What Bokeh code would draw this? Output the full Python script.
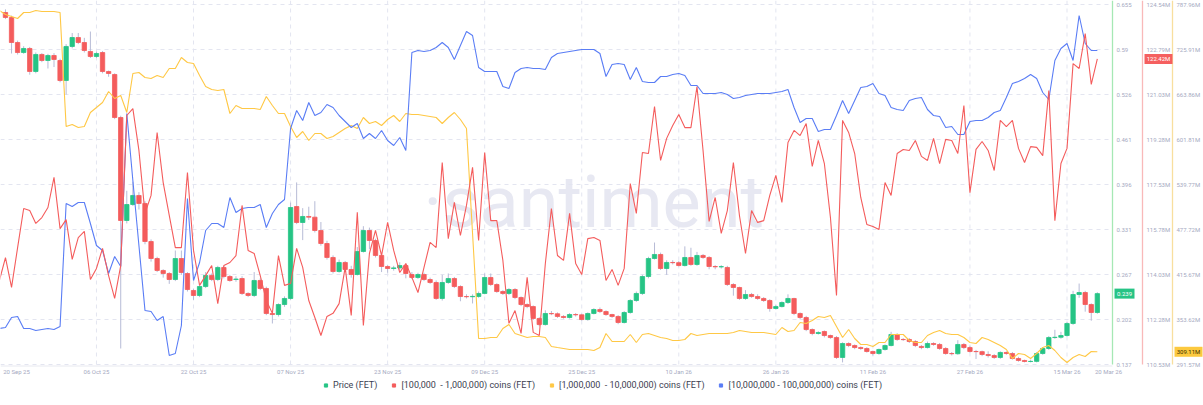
import pandas as pd
from bokeh.plotting import figure
from bokeh.models import (Range1d, Label, Legend, LegendItem, ColumnDataSource)
from bokeh.core.properties import value
from bokeh.embed import file_html
from bokeh.resources import INLINE

FONT = "Roboto"
DAY_MS = 86400000

# ---------------- data ----------------
line_dates = pd.date_range("2025-09-20", periods=182, freq="D")
candle_dates = line_dates[1:]

price_open = [
    0.6435, 0.6363, 0.6003, 0.5859, 0.5917, 0.5586, 0.5831, 0.5744, 0.5816, 0.5744,
    0.5456, 0.5946, 0.6075, 0.6003, 0.5874, 0.5802, 0.5859, 0.5586, 0.5543, 0.4924,
    0.3442, 0.3672, 0.3802, 0.3687, 0.3140, 0.2895, 0.2723, 0.2679, 0.2593, 0.2895,
    0.2679, 0.2435, 0.2363, 0.2492, 0.2651, 0.2593, 0.2766, 0.2636, 0.2593, 0.2607,
    0.2392, 0.2363, 0.2579, 0.2464, 0.2104, 0.2089, 0.2233, 0.2320, 0.3643, 0.3413,
    0.3500, 0.3490, 0.3298, 0.3111, 0.2910, 0.2708, 0.2838, 0.2737, 0.2665, 0.2996,
    0.3298, 0.3154, 0.2939, 0.2780, 0.2751, 0.2760, 0.2794, 0.2665, 0.2622, 0.2665,
    0.2593, 0.2550, 0.2320, 0.2550, 0.2607, 0.2492, 0.2348, 0.2345, 0.2348, 0.2392,
    0.2622, 0.2521, 0.2420, 0.2392, 0.2449, 0.2334, 0.2233, 0.2204, 0.2032, 0.1945,
    0.2104, 0.2100, 0.2061, 0.2046, 0.2089, 0.2085, 0.2017, 0.2104, 0.2161, 0.2132,
    0.2089, 0.2061, 0.1974, 0.2118, 0.2291, 0.2392, 0.2636, 0.2895, 0.2953, 0.2751,
    0.2838, 0.2835, 0.2794, 0.2910, 0.2809, 0.2939, 0.2910, 0.2780, 0.2775, 0.2766,
    0.2521, 0.2478, 0.2320, 0.2377, 0.2348, 0.2320, 0.2291, 0.2176, 0.2204, 0.2262,
    0.2320, 0.2104, 0.2046, 0.1873, 0.1816, 0.1845, 0.1787, 0.1758, 0.1471, 0.1672,
    0.1643, 0.1614, 0.1600, 0.1557, 0.1528, 0.1586, 0.1643, 0.1802, 0.1730, 0.1730,
    0.1701, 0.1630, 0.1614, 0.1672, 0.1658, 0.1600, 0.1528, 0.1525, 0.1658, 0.1614,
    0.1557, 0.1555, 0.1514, 0.1499, 0.1471, 0.1543, 0.1528, 0.1456, 0.1428, 0.1413,
    0.1415, 0.1528, 0.1600, 0.1758, 0.1762, 0.1787, 0.1960, 0.2377, 0.2406, 0.2233,
    0.2118]
price_close = [
    0.6363, 0.6003, 0.5859, 0.5917, 0.5586, 0.5831, 0.5744, 0.5816, 0.5759, 0.5456,
    0.5946, 0.6075, 0.6003, 0.5888, 0.5802, 0.5845, 0.5586, 0.5557, 0.4924, 0.3442,
    0.3672, 0.3802, 0.3687, 0.3140, 0.2895, 0.2723, 0.2679, 0.2593, 0.2895, 0.2694,
    0.2449, 0.2363, 0.2492, 0.2651, 0.2593, 0.2766, 0.2636, 0.2579, 0.2600, 0.2392,
    0.2363, 0.2579, 0.2464, 0.2104, 0.2089, 0.2233, 0.2320, 0.3629, 0.3413, 0.3500,
    0.3490, 0.3298, 0.3111, 0.2910, 0.2708, 0.2838, 0.2737, 0.2665, 0.2996, 0.3298,
    0.3154, 0.2939, 0.2780, 0.2751, 0.2760, 0.2794, 0.2679, 0.2622, 0.2665, 0.2593,
    0.2550, 0.2320, 0.2550, 0.2607, 0.2492, 0.2348, 0.2345, 0.2350, 0.2392, 0.2622,
    0.2521, 0.2420, 0.2392, 0.2449, 0.2334, 0.2233, 0.2204, 0.2032, 0.1945, 0.2104,
    0.2100, 0.2061, 0.2046, 0.2089, 0.2085, 0.2017, 0.2104, 0.2161, 0.2132, 0.2089,
    0.2061, 0.1974, 0.2118, 0.2291, 0.2392, 0.2636, 0.2895, 0.2953, 0.2751, 0.2838,
    0.2835, 0.2794, 0.2910, 0.2809, 0.2939, 0.2910, 0.2780, 0.2775, 0.2778, 0.2521,
    0.2478, 0.2320, 0.2377, 0.2348, 0.2320, 0.2291, 0.2176, 0.2204, 0.2262, 0.2320,
    0.2104, 0.2046, 0.1873, 0.1816, 0.1830, 0.1787, 0.1758, 0.1471, 0.1672, 0.1643,
    0.1614, 0.1600, 0.1557, 0.1528, 0.1586, 0.1643, 0.1802, 0.1730, 0.1728, 0.1701,
    0.1643, 0.1614, 0.1672, 0.1658, 0.1600, 0.1528, 0.1525, 0.1658, 0.1614, 0.1557,
    0.1555, 0.1514, 0.1499, 0.1471, 0.1543, 0.1528, 0.1456, 0.1428, 0.1413, 0.1415,
    0.1528, 0.1600, 0.1758, 0.1762, 0.1787, 0.1960, 0.2377, 0.2406, 0.2233, 0.2118,
    0.2390]
price_high = [
    0.6480, 0.6390, 0.6030, 0.5950, 0.5940, 0.5860, 0.5850, 0.5840, 0.5850, 0.5770,
    0.5980, 0.6140, 0.6140, 0.6070, 0.6161, 0.5870, 0.5880, 0.5600, 0.5560, 0.4950,
    0.3870, 0.4000, 0.3850, 0.3720, 0.3170, 0.2920, 0.2740, 0.2700, 0.3010, 0.3010,
    0.2700, 0.2460, 0.2510, 0.2700, 0.2680, 0.2790, 0.2790, 0.2660, 0.2640, 0.2640,
    0.2410, 0.2700, 0.2610, 0.2490, 0.2120, 0.2250, 0.2350, 0.3700, 0.3990, 0.3620,
    0.3640, 0.3720, 0.3420, 0.3150, 0.2940, 0.2880, 0.2860, 0.2790, 0.3060, 0.3360,
    0.3340, 0.3180, 0.2960, 0.2800, 0.2790, 0.2840, 0.2820, 0.2700, 0.2690, 0.2690,
    0.2620, 0.2580, 0.2660, 0.2680, 0.2630, 0.2510, 0.2380, 0.2380, 0.2420, 0.2680,
    0.2680, 0.2540, 0.2440, 0.2470, 0.2470, 0.2350, 0.2250, 0.2220, 0.2050, 0.2150,
    0.2140, 0.2120, 0.2080, 0.2110, 0.2110, 0.2100, 0.2120, 0.2180, 0.2190, 0.2150,
    0.2100, 0.2080, 0.2140, 0.2310, 0.2420, 0.2660, 0.2920, 0.3125, 0.2980, 0.2870,
    0.2870, 0.2860, 0.3070, 0.3050, 0.2990, 0.2960, 0.2930, 0.2800, 0.2800, 0.2790,
    0.2540, 0.2490, 0.2440, 0.2400, 0.2380, 0.2340, 0.2310, 0.2230, 0.2280, 0.2380,
    0.2330, 0.2120, 0.2070, 0.1890, 0.1850, 0.1860, 0.1800, 0.1780, 0.1690, 0.1690,
    0.1660, 0.1630, 0.1620, 0.1570, 0.1600, 0.1660, 0.1840, 0.1820, 0.1750, 0.1750,
    0.1720, 0.1650, 0.1700, 0.1690, 0.1680, 0.1620, 0.1550, 0.1720, 0.1680, 0.1640,
    0.1580, 0.1570, 0.1560, 0.1520, 0.1560, 0.1560, 0.1550, 0.1480, 0.1440, 0.1440,
    0.1550, 0.1620, 0.1780, 0.1870, 0.1840, 0.1980, 0.2430, 0.2535, 0.2430, 0.2250,
    0.2410]
price_low = [
    0.6340, 0.5845, 0.5830, 0.5840, 0.5540, 0.5560, 0.5720, 0.5629, 0.5650, 0.5430,
    0.5255, 0.5920, 0.5980, 0.5860, 0.5780, 0.5780, 0.5560, 0.5510, 0.4900, 0.1600,
    0.3400, 0.3650, 0.3600, 0.3100, 0.2850, 0.2700, 0.2620, 0.2530, 0.2570, 0.2660,
    0.2420, 0.2300, 0.2340, 0.2470, 0.2570, 0.2570, 0.2610, 0.2560, 0.2560, 0.2370,
    0.2340, 0.2340, 0.2440, 0.2080, 0.1960, 0.2060, 0.2200, 0.2300, 0.3390, 0.3160,
    0.3450, 0.3270, 0.3080, 0.2880, 0.2680, 0.2690, 0.2710, 0.2620, 0.2650, 0.2980,
    0.3030, 0.2910, 0.2700, 0.2690, 0.2720, 0.2730, 0.2610, 0.2600, 0.2600, 0.2570,
    0.2530, 0.2300, 0.2290, 0.2530, 0.2470, 0.2280, 0.2320, 0.2248, 0.2330, 0.2380,
    0.2500, 0.2400, 0.2370, 0.2370, 0.2310, 0.2210, 0.2180, 0.2010, 0.1920, 0.1930,
    0.2080, 0.2040, 0.2030, 0.2030, 0.2060, 0.2000, 0.2000, 0.2090, 0.2110, 0.2070,
    0.2040, 0.1950, 0.1960, 0.2100, 0.2270, 0.2370, 0.2610, 0.2880, 0.2730, 0.2660,
    0.2810, 0.2780, 0.2780, 0.2790, 0.2790, 0.2890, 0.2740, 0.2740, 0.2750, 0.2500,
    0.2360, 0.2300, 0.2300, 0.2330, 0.2300, 0.2270, 0.2130, 0.2160, 0.2190, 0.2240,
    0.2080, 0.2020, 0.1850, 0.1790, 0.1800, 0.1760, 0.1740, 0.1450, 0.1400, 0.1620,
    0.1590, 0.1580, 0.1540, 0.1500, 0.1510, 0.1570, 0.1630, 0.1710, 0.1710, 0.1680,
    0.1620, 0.1590, 0.1600, 0.1640, 0.1580, 0.1510, 0.1500, 0.1510, 0.1590, 0.1540,
    0.1450, 0.1490, 0.1470, 0.1450, 0.1450, 0.1510, 0.1440, 0.1410, 0.1400, 0.1400,
    0.1400, 0.1510, 0.1580, 0.1740, 0.1740, 0.1770, 0.1940, 0.2330, 0.2130, 0.2000,
    0.2100]

# [100,000 - 1,000,000) coins, millions of FET
coins_100k_1m = [
    113.80, 114.69, 113.53, 115.08, 116.60, 116.52, 116.02, 116.25, 116.64, 117.81,
    115.82, 116.17, 114.62, 115.47, 115.71, 113.84, 114.27, 115.05, 113.99, 113.10,
    114.38, 120.22, 120.49, 118.86, 116.41, 117.11, 119.56, 117.61, 116.33, 115.08,
    115.08, 118.00, 114.97, 113.61, 113.99, 114.38, 112.90, 114.38, 114.50, 114.77,
    116.72, 114.97, 114.85, 113.99, 113.02, 112.52, 114.77, 113.61, 113.68, 115.05,
    114.31, 113.02, 112.36, 111.66, 112.40, 112.52, 112.90, 114.31, 112.44, 116.45,
    112.05, 114.85, 115.75, 114.77, 116.06, 114.97, 114.11, 114.46, 113.92, 113.33,
    114.31, 115.28, 115.08, 118.39, 115.43, 116.84, 115.55, 116.72, 118.20, 115.36,
    118.78, 116.13, 116.13, 114.58, 112.13, 112.63, 111.74, 113.92, 111.78, 111.66,
    114.46, 116.60, 114.77, 114.58, 116.41, 114.46, 114.03, 115.43, 115.47, 115.36,
    113.80, 114.23, 113.61, 114.27, 117.57, 116.41, 118.78, 118.74, 120.57, 118.47,
    119.33, 119.83, 120.26, 119.75, 119.75, 121.35, 118.86, 116.10, 117.03, 115.63,
    116.52, 118.39, 116.33, 114.85, 116.52, 116.06, 116.13, 117.11, 117.89, 116.84,
    119.17, 119.64, 119.44, 119.91, 118.24, 119.25, 118.35, 116.25, 113.22, 120.03,
    119.56, 118.74, 117.03, 115.98, 115.90, 115.78, 117.61, 117.11, 118.74, 118.90,
    118.86, 119.25, 118.63, 118.47, 119.33, 118.35, 119.29, 119.25, 118.74, 120.61,
    117.22, 118.90, 119.21, 118.86, 118.08, 120.03, 119.79, 120.03, 118.94, 118.39,
    119.01, 118.98, 118.66, 121.19, 116.13, 118.35, 118.94, 122.24, 122.05, 123.41,
    121.43, 122.42]

# [1,000,000 - 10,000,000) coins, millions of FET
coins_1m_10m = [
    779.69, 774.18, 771.42, 768.66, 776.93, 776.93, 779.69, 778.31, 778.31, 778.31,
    776.93, 619.74, 622.50, 618.36, 619.74, 639.05, 645.94, 652.84, 668.00, 658.35,
    662.49, 639.05, 692.82, 694.20, 687.31, 685.93, 690.07, 687.31, 699.72, 699.72,
    714.88, 707.99, 706.61, 690.07, 674.90, 670.76, 669.38, 670.76, 637.67, 648.70,
    644.56, 644.56, 644.56, 643.18, 661.11, 648.70, 637.67, 637.67, 619.74, 604.58,
    612.85, 600.44, 610.09, 610.09, 603.20, 605.96, 611.47, 616.99, 621.12, 616.99,
    632.15, 623.88, 626.64, 621.12, 629.40, 634.91, 626.64, 637.67, 636.29, 636.29,
    634.91, 633.53, 632.15, 623.88, 632.15, 639.05, 629.40, 616.99, 472.21, 327.43,
    327.43, 328.80, 328.80, 341.21, 346.73, 334.32, 331.56, 328.80, 330.18, 330.18,
    328.80, 316.39, 315.01, 313.64, 312.26, 312.26, 312.26, 312.26, 310.88, 315.01,
    334.32, 323.29, 323.29, 323.29, 332.94, 321.91, 332.94, 334.32, 331.56, 328.80,
    327.43, 324.67, 324.67, 326.05, 334.32, 331.56, 332.94, 334.32, 334.32, 334.32,
    334.32, 335.70, 338.46, 337.08, 335.70, 335.70, 335.70, 334.32, 332.94, 342.59,
    337.08, 338.46, 349.49, 348.11, 352.24, 357.76, 356.38, 359.14, 343.97, 328.80,
    339.83, 327.43, 319.15, 319.15, 316.39, 321.91, 321.91, 332.94, 332.94, 332.94,
    324.67, 321.91, 321.91, 331.56, 335.70, 338.46, 334.32, 332.94, 332.94, 328.80,
    321.91, 320.53, 328.80, 326.05, 321.91, 317.77, 312.26, 299.85, 306.74, 305.36,
    299.85, 306.74, 315.01, 317.77, 310.88, 301.23, 294.33, 301.23, 305.36, 302.61,
    309.50, 309.11]

# [10,000,000 - 100,000,000) coins, millions of FET (its axis lies off the page)
coins_10m_100m = [
    1127.8, 1128.2, 1132.2, 1132.6, 1127.8, 1127.8, 1127.0, 1127.4, 1127.8, 1127.4,
    1128.6, 1177.8, 1176.6, 1178.2, 1178.2, 1169.8, 1161.0, 1159.0, 1149.8, 1156.6,
    1152.6, 1213.8, 1187.0, 1161.0, 1135.0, 1134.6, 1131.0, 1132.6, 1117.0, 1117.8,
    1129.0, 1179.8, 1147.0, 1154.2, 1167.0, 1169.8, 1169.8, 1168.2, 1180.2, 1174.2,
    1175.8, 1176.2, 1176.2, 1177.4, 1168.2, 1173.8, 1177.4, 1179.4, 1207.8, 1215.0,
    1211.0, 1218.2, 1213.0, 1214.2, 1217.4, 1216.2, 1213.0, 1210.6, 1208.2, 1209.8,
    1203.8, 1205.8, 1203.8, 1207.0, 1203.0, 1201.0, 1204.2, 1199.0, 1238.2, 1239.0,
    1238.6, 1239.0, 1240.2, 1242.2, 1240.2, 1235.4, 1241.0, 1246.6, 1245.0, 1232.2,
    1230.6, 1230.6, 1230.6, 1224.6, 1223.8, 1230.2, 1231.8, 1232.2, 1231.8, 1231.8,
    1231.4, 1236.2, 1237.8, 1238.2, 1238.6, 1239.0, 1239.4, 1239.4, 1239.4, 1237.8,
    1228.6, 1233.4, 1233.8, 1233.4, 1227.4, 1232.2, 1226.6, 1226.2, 1226.2, 1228.6,
    1228.6, 1229.4, 1229.8, 1229.0, 1225.0, 1225.0, 1221.8, 1221.8, 1221.8, 1222.2,
    1221.4, 1219.8, 1220.2, 1221.0, 1221.4, 1221.8, 1221.8, 1221.8, 1222.2, 1222.6,
    1223.4, 1216.2, 1210.2, 1211.8, 1211.8, 1206.6, 1207.4, 1207.4, 1213.0, 1219.0,
    1213.8, 1219.0, 1224.2, 1224.6, 1225.8, 1221.8, 1221.0, 1216.2, 1215.4, 1215.0,
    1219.0, 1219.8, 1220.2, 1215.4, 1213.0, 1212.6, 1208.2, 1208.6, 1205.4, 1205.4,
    1210.6, 1211.0, 1211.0, 1212.2, 1214.2, 1215.0, 1220.2, 1225.8, 1226.6, 1227.8,
    1229.4, 1227.8, 1222.2, 1219.4, 1235.0, 1239.8, 1241.8, 1235.0, 1253.0, 1241.8,
    1239.0, 1239.0]

price_ticks = [0.655, 0.59025, 0.5255, 0.46075, 0.396, 0.33125, 0.2665, 0.20175, 0.137]
price_tick_labels = ["0.655", "0.59", "0.526", "0.461", "0.396", "0.331", "0.267", "0.202", "0.137"]
red_ticks = [124.54, 122.78875, 121.0375, 119.28625, 117.535, 115.78375, 114.0325, 112.28125, 110.53]
red_tick_labels = ["124.54M", "122.79M", "121.03M", "119.28M", "117.53M", "115.78M", "114.03M", "112.28M", "110.53M"]
yellow_ticks = [787.96, 725.91125, 663.8625, 601.81375, 539.765, 477.71625, 415.6675, 353.61875, 291.57]
yellow_tick_labels = ["787.96M", "725.91M", "663.86M", "601.81M", "539.77M", "477.72M", "415.67M", "353.62M", "291.57M"]
blue_top, blue_bottom = 1259.0, 1112.6

x_tick_dates = ["2025-10-06", "2025-10-22", "2025-11-07", "2025-11-23", "2025-12-09", "2025-12-25",
                "2026-01-10", "2026-01-26", "2026-02-11", "2026-02-27", "2026-03-15"]
x_tick_labels = ["06 Oct 25", "22 Oct 25", "07 Nov 25", "23 Nov 25", "09 Dec 25", "25 Dec 25",
                 "10 Jan 26", "26 Jan 26", "11 Feb 26", "27 Feb 26", "15 Mar 26"]
first_date_label = "20 Sep 25"
last_date_label = "20 Mar 26"

legend_labels = ["Price (FET)", "[100,000  - 1,000,000) coins (FET)",
                 "[1,000,000  - 10,000,000) coins (FET)", "[10,000,000 - 100,000,000) coins (FET)"]
price_tag = "0.239"
red_tag = "122.42M"
yellow_tag = "309.11M"

# ---------------- style / layout ----------------
GREEN = "#26c485"
RED = "#f45c5c"
YELLOW = "#ffc845"
BLUE = "#5a7df5"
WICK = "#b7bbd6"
GRID = "#e3e5f0"
LABEL = "#a6aabf"
FRAME_W, FRAME_H = 1203, 404          # whole drawing area
DATA_W, DATA_H = 1112, 366            # px used by the series themselves
AX_PRICE, AX_RED, AX_YEL = 1112, 1142, 1172   # px of the right axis lines
XLABEL_PX, LEGEND_MARGIN = 371, 13
TOP_PAD, SPAN = 4, 360                # first tick 4px below the top, ticks span 360px


def ms(ts):
    return float(pd.Timestamp(ts).value // 10**6)


def make_range(ticks):
    per = (ticks[0] - ticks[-1]) / SPAN
    top = ticks[0] + TOP_PAD * per
    return Range1d(top - FRAME_H * per, top), per


x_start = ms(line_dates[0] + pd.Timedelta(hours=4.3))
data_end = ms(line_dates[0] + pd.Timedelta(days=183.5))
ms_per_px = (data_end - x_start) / DATA_W


def fx(px):
    return x_start + px * ms_per_px


price_range, price_per = make_range(price_ticks)
red_range, _ = make_range(red_ticks)
yellow_range, _ = make_range(yellow_ticks)
blue_per = (blue_top - blue_bottom) / DATA_H
blue_range = Range1d(blue_top - FRAME_H * blue_per, blue_top)


def py(px):
    return price_range.end - px * price_per


p = figure(x_axis_type="datetime", x_axis_location=None, y_axis_location=None,
           x_range=Range1d(x_start, fx(FRAME_W)), y_range=price_range,
           frame_width=FRAME_W, frame_height=FRAME_H,
           output_backend="svg", toolbar_location=None, min_border=0)
p.extra_y_ranges = {"red": red_range, "yellow": yellow_range, "blue": blue_range}
p.outline_line_color = None
p.background_fill_color = "white"
p.grid.visible = False

# dashed grid
grid_x = [ms(d) for d in x_tick_dates]
p.segment(x0=grid_x, y0=[py(0)] * len(grid_x), x1=grid_x, y1=[py(DATA_H)] * len(grid_x),
          line_color=GRID, line_dash="4 4", line_width=1)
p.segment(x0=[x_start] * len(price_ticks), y0=price_ticks,
          x1=[fx(AX_PRICE)] * len(price_ticks), y1=price_ticks,
          line_color=GRID, line_dash="4 4", line_width=1)
p.segment(x0=[x_start], y0=[py(DATA_H - 0.5)], x1=[fx(AX_PRICE)], y1=[py(DATA_H - 0.5)],
          line_color="#e8e9f0", line_width=1)

# date labels
xl_pos = [fx(16)] + grid_x + [fx(1108)]
xl_txt = [first_date_label] + x_tick_labels + [last_date_label]
p.text(x=xl_pos, y=[py(XLABEL_PX)] * len(xl_pos), text=xl_txt,
       text_font=value(FONT), text_font_size=value("6px"), text_color=LABEL,
       text_align="center", text_baseline="middle")

# watermark
p.add_layout(Label(x=fx(423), y=py(202), text="\u00b7santiment", text_font=FONT,
                   text_font_size="72px", text_color="#e7e8f2",
                   text_baseline="alphabetic", level="underlay"))

# candles
bull = [c >= o for o, c in zip(price_open, price_close)]
src = ColumnDataSource(dict(
    x=candle_dates, h=price_high, l=price_low,
    top=[max(o, c) for o, c in zip(price_open, price_close)],
    bottom=[min(o, c) for o, c in zip(price_open, price_close)],
    color=[GREEN if b else RED for b in bull]))
p.segment(x0="x", y0="l", x1="x", y1="h", source=src, line_color=WICK, line_width=1)
p.vbar(x="x", width=0.72 * DAY_MS, top="top", bottom="bottom", source=src,
       fill_color="color", line_color="color", line_width=0.8)

# holder lines
p.line(line_dates, coins_1m_10m, y_range_name="yellow", line_color=YELLOW, line_width=1.1)
p.line(line_dates, coins_10m_100m, y_range_name="blue", line_color=BLUE, line_width=1.1)
p.line(line_dates, coins_100k_1m, y_range_name="red", line_color=RED, line_width=1.1)

# right-hand value axes
for ax_px, ticks, labels, rng, lc in [
        (AX_PRICE, price_ticks, price_tick_labels, "default", "#a6e8b4"),
        (AX_RED, red_ticks, red_tick_labels, "red", "#f9b9b9"),
        (AX_YEL, yellow_ticks, yellow_tick_labels, "yellow", "#f8df9e")]:
    p.segment(x0=[fx(ax_px)], y0=[py(DATA_H - 2)], x1=[fx(ax_px)], y1=[py(0)],
              line_color=lc, line_width=1.3)
    p.text(x=[fx(ax_px + 4)] * len(ticks), y=ticks, text=labels, y_range_name=rng,
           text_font=value(FONT), text_font_size=value("6px"), text_color=LABEL,
           text_baseline="middle", text_align="left")

# value tags on the axes
for ax_px, w, txt, yv, rng, bg, fg in [
        (AX_PRICE, 20, price_tag, price_close[-1], "default", GREEN, "white"),
        (AX_RED, 28, red_tag, coins_100k_1m[-1], "red", "#f55f5f", "white"),
        (AX_YEL, 28, yellow_tag, coins_1m_10m[-1], "yellow", "#fcc93f", "#3a3000")]:
    cx = fx(ax_px + 2 + w / 2)
    p.rect(x=[cx], y=[yv], width=w, height=10, width_units="screen", height_units="screen",
           y_range_name=rng, fill_color=bg, line_color=None)
    p.text(x=[cx], y=[yv], text=[txt], y_range_name=rng, text_font=value(FONT),
           text_font_size=value("6px"), text_color=fg, text_align="center",
           text_baseline="middle")

# legend (swatch renderers sit outside the visible range)
dummies = []
for col in [GREEN, RED, YELLOW, BLUE]:
    dummies.append(p.scatter([x_start - 30 * DAY_MS], [0.0], marker="square", size=8, color=col))
legend = Legend(items=[LegendItem(label=l, renderers=[r]) for l, r in zip(legend_labels, dummies)],
                orientation="horizontal", location="bottom_center",
                border_line_alpha=0, background_fill_alpha=0,
                label_text_font=FONT, label_text_font_size="9px", label_text_color="#3b3e4f",
                label_height=10, glyph_width=8, glyph_height=8, spacing=12, label_standoff=4,
                padding=1, margin=LEGEND_MARGIN)
p.add_layout(legend)

open("out.html", "w").write(file_html(p, INLINE))
